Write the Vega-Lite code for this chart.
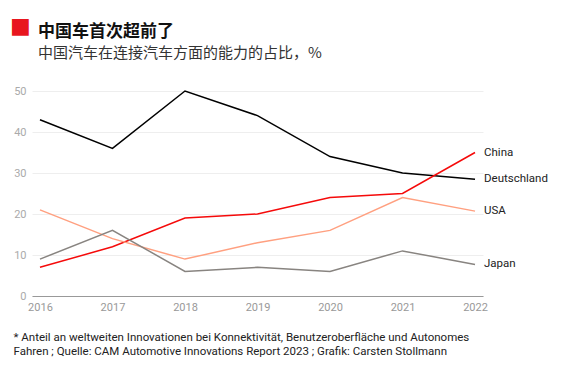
{
  "$schema": "https://vega.github.io/schema/vega-lite/v6.json",
  "width": 451,
  "height": 205,
  "autosize": {"type": "none"},
  "padding": {"left": 32, "top": 91, "right": 84, "bottom": 69},
  "background": "white",
  "title": {
    "text": "中国车首次超前了",
    "subtitle": "中国汽车在连接汽车方面的能力的占比，%",
    "anchor": "start",
    "frame": "group",
    "dx": 6,
    "offset": -48,
    "font": "Noto Sans CJK SC",
    "fontSize": 17,
    "fontWeight": "bold",
    "color": "#111",
    "subtitleFont": "Noto Sans CJK SC",
    "subtitleFontSize": 15,
    "subtitleColor": "#333",
    "subtitlePadding": 5
  },
  "config": {
    "view": {"stroke": null},
    "font": "Roboto"
  },
  "data": {
    "values": [
      {"year": 2016, "country": "Deutschland", "value": 43},
      {"year": 2017, "country": "Deutschland", "value": 36},
      {"year": 2018, "country": "Deutschland", "value": 50},
      {"year": 2019, "country": "Deutschland", "value": 44},
      {"year": 2020, "country": "Deutschland", "value": 34},
      {"year": 2021, "country": "Deutschland", "value": 30},
      {"year": 2022, "country": "Deutschland", "value": 28.5},
      {"year": 2016, "country": "China", "value": 7},
      {"year": 2017, "country": "China", "value": 12},
      {"year": 2018, "country": "China", "value": 19},
      {"year": 2019, "country": "China", "value": 20},
      {"year": 2020, "country": "China", "value": 24},
      {"year": 2021, "country": "China", "value": 25},
      {"year": 2022, "country": "China", "value": 35},
      {"year": 2016, "country": "USA", "value": 21},
      {"year": 2017, "country": "USA", "value": 14},
      {"year": 2018, "country": "USA", "value": 9},
      {"year": 2019, "country": "USA", "value": 13},
      {"year": 2020, "country": "USA", "value": 16},
      {"year": 2021, "country": "USA", "value": 24},
      {"year": 2022, "country": "USA", "value": 20.7},
      {"year": 2016, "country": "Japan", "value": 9},
      {"year": 2017, "country": "Japan", "value": 16},
      {"year": 2018, "country": "Japan", "value": 6},
      {"year": 2019, "country": "Japan", "value": 7},
      {"year": 2020, "country": "Japan", "value": 6},
      {"year": 2021, "country": "Japan", "value": 11},
      {"year": 2022, "country": "Japan", "value": 7.7}
    ]
  },
  "encoding": {
    "x": {
      "field": "year",
      "type": "quantitative",
      "scale": {"domain": [2015.89, 2022.11], "nice": false, "zero": false},
      "axis": {
        "values": [2016, 2017, 2018, 2019, 2020, 2021, 2022],
        "format": "d",
        "grid": false,
        "ticks": false,
        "domainColor": "#999",
        "domainWidth": 1.2,
        "labelColor": "#999",
        "labelFontSize": 11,
        "labelPadding": 5,
        "labelFlush": false,
        "title": ["* Anteil an weltweiten Innovationen bei Konnektivität, Benutzeroberfläche und Autonomes", "Fahren ; Quelle: CAM Automotive Innovations Report 2023 ; Grafik: Carsten Stollmann"],
        "titleAlign": "left",
        "titleAnchor": "start",
        "titleBaseline": "top",
        "titleX": -19,
        "titleY": 35,
        "titleFontSize": 11.5,
        "titleFontWeight": "normal",
        "titleColor": "#222",
        "titleLineHeight": 14
      }
    },
    "y": {
      "field": "value",
      "type": "quantitative",
      "scale": {"domain": [0, 50], "nice": false},
      "axis": {
        "values": [0, 10, 20, 30, 40, 50],
        "domain": false,
        "ticks": false,
        "gridColor": "#eee",
        "gridWidth": 1,
        "labelColor": "#aaa",
        "labelFontSize": 11,
        "labelPadding": 6,
        "title": "■",
        "titleAngle": 0,
        "titleAlign": "center",
        "titleBaseline": "middle",
        "titleX": -12,
        "titleY": -66,
        "titleFontSize": 22,
        "titleColor": "#e8161e",
        "titleFont": "DejaVu Sans"
      }
    },
    "color": {
      "field": "country",
      "type": "nominal",
      "scale": {
        "domain": ["China", "Deutschland", "USA", "Japan"],
        "range": ["#f50a0a", "#000000", "#ffa080", "#888480"]
      },
      "legend": null
    }
  },
  "layer": [
    {
      "mark": {"type": "line", "strokeWidth": 1.5}
    },
    {
      "transform": [{"filter": "datum.year == 2022"}],
      "mark": {"type": "text", "align": "left", "baseline": "middle", "dx": 9, "fontSize": 11.5, "color": "#222"},
      "encoding": {
        "text": {"field": "country"},
        "color": {"value": "#222"}
      }
    }
  ]
}
